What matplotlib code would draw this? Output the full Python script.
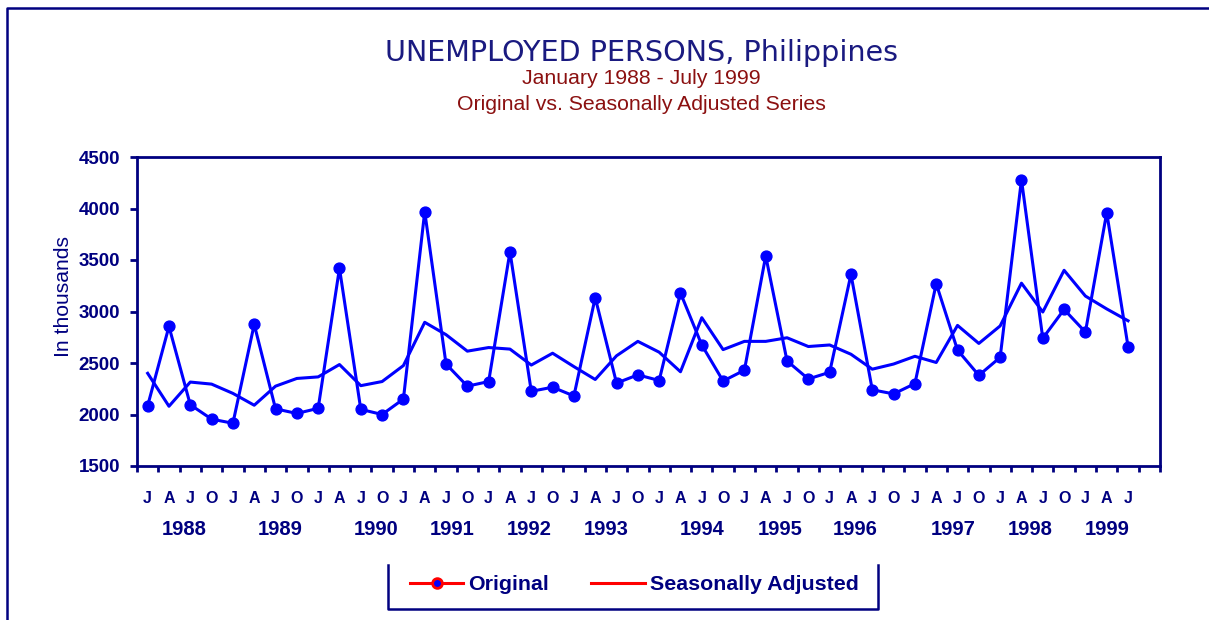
import matplotlib
matplotlib.use("Agg")
import matplotlib.pyplot as plt
from matplotlib.lines import Line2D

# ---- data ----
quarter_labels = ["J", "A", "J", "O"] * 11 + ["J", "A", "J"]
original = [2085, 2855, 2095, 1955, 1915, 2875, 2055, 2010, 2060, 3420,
            2050, 2000, 2150, 3970, 2490, 2275, 2320, 3580, 2225, 2265,
            2180, 3135, 2305, 2385, 2330, 3180, 2675, 2325, 2430, 3540,
            2520, 2345, 2410, 3360, 2240, 2200, 2300, 3270, 2625, 2380,
            2555, 4280, 2740, 3020, 2800, 3960, 2660]
seasonally_adjusted = [2400, 2080, 2315, 2295, 2205, 2090, 2275, 2350, 2365, 2485,
                       2280, 2320, 2475, 2895, 2775, 2615, 2650, 2635, 2480, 2595,
                       2465, 2340, 2570, 2710, 2605, 2415, 2940, 2630, 2710, 2710,
                       2745, 2660, 2675, 2585, 2440, 2490, 2565, 2505, 2865, 2690,
                       2860, 3275, 2995, 3400, 3150, 3025, 2910]
years = ["1988", "1989", "1990", "1991", "1992", "1993",
         "1994", "1995", "1996", "1997", "1998", "1999"]
year_pos = [1.7, 6.2, 10.7, 14.3, 17.9, 21.5, 26.0, 29.7, 33.2, 37.8, 41.4, 45.0]
yticks = [1500, 2000, 2500, 3000, 3500, 4000, 4500]

NAVY = "#000080"
BLUE = "#0000ff"
DARKRED = "#8b1010"
W, H = 1209, 620

plt.rcParams['font.family'] = ['Liberation Sans', 'DejaVu Sans']

fig = plt.figure(figsize=(W / 100, H / 100), dpi=100)
ax = fig.add_axes([137 / W, 1 - 466 / H, (1160 - 137) / W, (466 - 157) / H])

x = list(range(len(original)))
ax.plot(x, seasonally_adjusted, color=BLUE, lw=2.2, zorder=2)
ax.plot(x, original, color=BLUE, lw=2.2, marker="o", markersize=7.8,
        markerfacecolor=BLUE, markeredgecolor=BLUE, zorder=3)

ax.set_xlim(-0.5, 47.5)
ax.set_ylim(1500, 4500)
ax.set_yticks(yticks)
ax.set_yticklabels([str(v) for v in yticks], fontsize=13.5, fontweight="bold", color=NAVY)
ax.tick_params(axis="y", direction="out", length=5, width=2, color=NAVY, pad=7)

ax.set_xticks(x)
ax.set_xticklabels(quarter_labels, fontsize=11.5, fontweight="bold", color=NAVY)
ax.tick_params(axis="x", which="major", length=0, pad=18)
ax.set_xticks([i - 0.5 for i in range(49)], minor=True)
ax.tick_params(axis="x", which="minor", direction="out", length=4, width=2, color=NAVY)

for s in ax.spines.values():
    s.set_color(NAVY)
    s.set_linewidth(2)

for lab, pos in zip(years, year_pos):
    ax.text(pos, -0.205, lab, transform=ax.get_xaxis_transform(), ha="center", va="center",
            fontsize=14.5, fontweight="bold", color=NAVY)

ax.set_ylabel("In thousands", fontsize=15.2, color=NAVY)
ax.yaxis.set_label_coords(-64 / (1160 - 137), 0.55)

def fx(px):
    return px / W

def fy(py):
    return 1 - py / H

fig.text(fx(641.5), fy(53), "UNEMPLOYED PERSONS, Philippines", ha="center", va="center",
         fontsize=20.6, color="#1a1a80", family="DejaVu Sans")
fig.text(fx(641), fy(79), "January 1988 - July 1999", ha="center", va="center",
         fontsize=15.3, color=DARKRED)
fig.text(fx(641), fy(104), "Original vs. Seasonally Adjusted Series", ha="center", va="center",
         fontsize=15.3, color=DARKRED)

# figure frame
fig.add_artist(Line2D([fx(7), fx(7), fx(1209)], [fy(620), fy(8), fy(8)],
                      transform=fig.transFigure, color=NAVY, lw=1.8))

# legend box (left, bottom, right)
fig.add_artist(Line2D([fx(388), fx(388), fx(878), fx(878)], [fy(565), fy(609), fy(609), fy(565)],
                      transform=fig.transFigure, color=NAVY, lw=1.8))
fig.add_artist(Line2D([fx(410), fx(463)], [fy(583), fy(583)], transform=fig.transFigure,
                      color="#ff0000", lw=2.2))
fig.add_artist(Line2D([fx(437)], [fy(583)], transform=fig.transFigure, marker="o",
                      markersize=7, markerfacecolor=BLUE, markeredgecolor="#ff0000",
                      markeredgewidth=2, lw=0))
fig.text(fx(468), fy(584), "Original", ha="left", va="center", fontsize=15.4,
         fontweight="bold", color=NAVY)
fig.add_artist(Line2D([fx(591), fx(645)], [fy(583), fy(583)], transform=fig.transFigure,
                      color="#ff0000", lw=2.2))
fig.text(fx(650), fy(584), "Seasonally Adjusted", ha="left", va="center", fontsize=15.4,
         fontweight="bold", color=NAVY)

fig.savefig("out.png", dpi=100)
